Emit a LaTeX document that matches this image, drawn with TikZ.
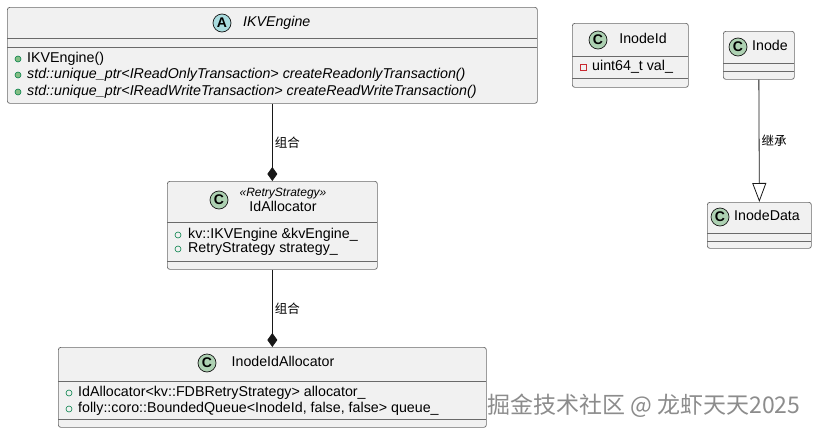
\documentclass[tikz,border=0pt]{standalone}
\usepackage{fontspec}
\setmainfont{Liberation Sans}
\newfontfamily\cjk{Noto Sans CJK SC}
\usetikzlibrary{arrows.meta}
\definecolor{boxfill}{HTML}{F1F1F1}
\definecolor{boxline}{HTML}{6A6A6A}
\definecolor{edgeline}{HTML}{181818}
\definecolor{cfill}{HTML}{ADD1B2}
\definecolor{afill}{HTML}{A9DCDF}
\definecolor{pubgreen}{HTML}{038048}
\definecolor{pubfill}{HTML}{84BE84}
\definecolor{privred}{HTML}{C82930}
\definecolor{wmark}{HTML}{8C8C8C}
\tikzset{
  classbox/.style={draw=boxline, fill=boxfill, rounded corners=2.5pt, line width=0.7pt, anchor=north west, inner sep=0pt},
  sepline/.style={draw=boxline, line width=0.7pt},
  spot/.style={circle, draw=edgeline, line width=0.7pt, minimum size=18pt, inner sep=0pt, font=\fontsize{14}{14}\selectfont\bfseries},
  cname/.style={inner sep=0pt, font=\fontsize{14.2}{16}\selectfont, text height=10pt, text depth=3pt},
  stereo/.style={inner sep=0pt, font=\fontsize{12}{14}\selectfont\itshape, text height=8.5pt, text depth=2.5pt},
  member/.style={anchor=west, inner sep=0pt, font=\fontsize{14.25}{16}\selectfont, text height=10pt, text depth=3pt},
  pubmethod/.style={circle, draw=pubgreen, fill=pubfill, line width=0.6pt, minimum size=6pt, inner sep=0pt},
  pubfield/.style={circle, draw=pubgreen, fill=none, line width=0.6pt, minimum size=6pt, inner sep=0pt},
  privfield/.style={rectangle, draw=privred, fill=none, line width=0.6pt, minimum size=6pt, inner sep=0pt},
  edgelabel/.style={inner sep=0pt, font=\cjk\fontsize{12.5}{14}\selectfont},
  composition/.style={draw=edgeline, line width=0.8pt, -{Diamond[length=14pt,width=10pt,fill=edgeline]}},
  extension/.style={draw=edgeline, line width=0.8pt, -{Triangle[length=19pt,width=14pt,fill=white]}},
}
\begin{document}
\begin{tikzpicture}[x=1pt,y=-1pt]
\useasboundingbox (0,0) rectangle (817,434);
\fill[white] (0,0) rectangle (817,434);

% IKVEngine
\node[classbox, minimum width=530pt, minimum height=96pt] (ikv) at (7,7) {};
\draw[sepline] (7,38) -- (537,38);
\draw[sepline] (7,47) -- (537,47);
\node[spot, fill=afill] (ikvspot) at (222,23) {A};
\node[cname, anchor=west] (ikvname) at (243,23) {\itshape IKVEngine};
\node[pubmethod] (ikvm1) at (18,59) {};
\node[member] (ikvt1) at (27,59) {IKVEngine()};
\node[pubmethod] (ikvm2) at (18,75) {};
\node[member] (ikvt2) at (27,75) {\itshape std::unique\_ptr<IReadOnlyTransaction> createReadonlyTransaction()};
\node[pubmethod] (ikvm3) at (18,92) {};
\node[member] (ikvt3) at (27,92) {\itshape std::unique\_ptr<IReadWriteTransaction> createReadWriteTransaction()};

% IdAllocator
\node[classbox, minimum width=210pt, minimum height=88pt] (ida) at (167,181) {};
\draw[sepline] (167,222) -- (377,222);
\draw[sepline] (167,261) -- (377,261);
\node[spot, fill=cfill] (idaspot) at (219,200) {C};
\node[stereo] (idastereo) at (283,193) {«RetryStrategy»};
\node[cname] (idaname) at (283,208) {IdAllocator};
\node[pubfield] (idam1) at (178,235) {};
\node[member] (idat1) at (188,235) {kv::IKVEngine \&kvEngine\_};
\node[pubfield] (idam2) at (178,249) {};
\node[member] (idat2) at (188,249) {RetryStrategy strategy\_};

% InodeIdAllocator
\node[classbox, minimum width=428pt, minimum height=80pt] (iida) at (58,347) {};
\draw[sepline] (58,381) -- (486,381);
\draw[sepline] (58,419) -- (486,419);
\node[spot, fill=cfill] (iidaspot) at (207,363) {C};
\node[cname] (iidaname) at (283,363) {InodeIdAllocator};
\node[pubfield] (iidam1) at (69,393) {};
\node[member] (iidat1) at (78,393) {IdAllocator<kv::FDBRetryStrategy> allocator\_};
\node[pubfield] (iidam2) at (69,409) {};
\node[member] (iidat2) at (78,409) {folly::coro::BoundedQueue<InodeId, false, false> queue\_};

% InodeId
\node[classbox, minimum width=116pt, minimum height=64pt] (iid) at (572,23) {};
\draw[sepline] (572,56) -- (688,56);
\draw[sepline] (572,78) -- (688,78);
\node[spot, fill=cfill] (iidspot) at (598,40) {C};
\node[cname] (iidname) at (643,40) {InodeId};
\node[privfield] (iidm1) at (583,67) {};
\node[member] (iidt1) at (592,67) {uint64\_t val\_};

% Inode
\node[classbox, minimum width=71pt, minimum height=48pt] (ino) at (723,31) {};
\draw[sepline] (723,63) -- (794,63);
\draw[sepline] (723,71) -- (794,71);
\node[spot, fill=cfill] (inospot) at (738,47) {C};
\node[cname] (inoname) at (770,47) {Inode};

% InodeData
\node[classbox, minimum width=104pt, minimum height=46pt] (ind) at (707,202) {};
\draw[sepline] (707,233) -- (811,233);
\draw[sepline] (707,241) -- (811,241);
\node[spot, fill=cfill] (indspot) at (720,217) {C};
\node[cname] (indname) at (767,217) {InodeData};

% connectors
\draw[composition] (ikv.south) -- (ida.north) node[midway, right=2pt, edgelabel] {组合};
\draw[composition] (ida.south) -- (iida.north) node[midway, right=2pt, edgelabel] {组合};
\draw[extension] (ino.south) -- (ind.north) node[midway, right=2pt, edgelabel] {继承};

% watermark
\node[anchor=west, inner sep=0pt, text=wmark, font=\cjk\fontsize{23}{25}\selectfont] (wm) at (487,406) {掘金技术社区 @ 龙虾天天2025};
\end{tikzpicture}
\end{document}
